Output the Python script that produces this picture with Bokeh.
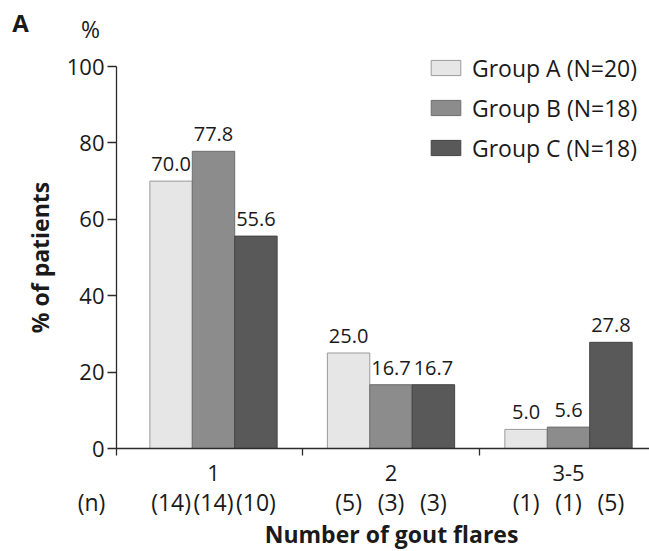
from bokeh.plotting import figure
from bokeh.models import (ColumnDataSource, FixedTicker, Range1d, Legend, LegendItem,
                          LabelSet, Label)
from bokeh.core.properties import value
from bokeh.transform import dodge
from bokeh.embed import file_html
from bokeh.resources import INLINE

# ---- data ----
categories = ["1", "2", "3-5"]
group_a = [70.0, 25.0, 5.0]
group_b = [77.8, 16.7, 5.6]
group_c = [55.6, 16.7, 27.8]
n_a = [14, 5, 1]
n_b = [14, 3, 1]
n_c = [10, 3, 5]
series_names = ["Group A (N=20)", "Group B (N=18)", "Group C (N=18)"]
y_ticks = [0, 20, 40, 60, 80, 100]

FONT = "Open Sans"
TXT = "#1a1a1a"
fills = ["#e6e6e6", "#8c8c8c", "#595959"]
lines = ["#9a9a9a", "#6e6e6e", "#444444"]
BW = 0.239
X0 = -0.0465          # where the value axis crosses the category axis

centers = [i + 0.5 for i in range(len(categories))]
src = ColumnDataSource(dict(
    x=centers, cat=categories,
    a=group_a, b=group_b, c=group_c,
    la=[f"{v:.1f}" for v in group_a], lb=[f"{v:.1f}" for v in group_b], lc=[f"{v:.1f}" for v in group_c],
    na=[f"({v})" for v in n_a], nb=[f"({v})" for v in n_b], nc=[f"({v})" for v in n_c],
))

p = figure(width=649, height=551, output_backend="svg", toolbar_location=None,
           x_range=Range1d(-0.7, 2.9563), y_range=Range1d(-26.96, 117.28),
           min_border=0, min_border_left=0, min_border_right=0,
           min_border_top=0, min_border_bottom=0)
p.outline_line_color = None
p.xgrid.grid_line_color = None
p.ygrid.grid_line_color = None
p.background_fill_color = "white"
p.border_fill_color = "white"

renderers = []
for off, col, lab, fc, lc in [(-BW, "a", "la", fills[0], lines[0]),
                              (0.0, "b", "lb", fills[1], lines[1]),
                              (BW, "c", "lc", fills[2], lines[2])]:
    r = p.vbar(x=dodge("x", off, range=p.x_range), top=col, width=BW, source=src,
               fill_color=fc, line_color=lc, line_width=1)
    renderers.append(r)
    p.add_layout(LabelSet(x=dodge("x", off, range=p.x_range), y=col, text=lab, source=src,
                          text_align="center", text_baseline="alphabetic", y_offset=10,
                          text_font=value(FONT), text_font_size="20px", text_color=TXT))

AX = "#2b2b2b"
# y axis, crossing the category axis at X0
ya = p.yaxis[0]
ya.fixed_location = X0
ya.bounds = (0, 100)
ya.ticker = FixedTicker(ticks=y_ticks)
ya.minor_tick_line_color = None
ya.major_tick_out = 9
ya.major_tick_in = 0
ya.major_label_standoff = 3
ya.major_label_text_font = FONT
ya.major_label_text_font_size = "22px"
ya.major_label_text_color = TXT
ya.axis_line_color = AX
ya.axis_line_width = 1.3
ya.major_tick_line_color = AX
ya.major_tick_line_width = 1.3
ya.axis_label = "% of patients"
ya.axis_label_text_font = FONT
ya.axis_label_text_font_style = "bold"
ya.axis_label_text_font_size = "23px"
ya.axis_label_text_color = TXT
ya.axis_label_standoff = 8

# x axis at y = 0: unlabelled tick marks at group boundaries (as minor ticks)
xa = p.xaxis[0]
xa.fixed_location = 0
xa.bounds = (X0, 2.9563)
xa.ticker = FixedTicker(ticks=[], minor_ticks=[X0, 1, 2])
xa.major_tick_line_color = None
xa.minor_tick_out = 7
xa.minor_tick_in = 0
xa.minor_tick_line_color = AX
xa.minor_tick_line_width = 1.3
xa.axis_line_color = AX
xa.axis_line_width = 1.3

# category labels and (n) row
p.add_layout(LabelSet(x="x", y=-6.5, text="cat", source=src, text_align="center",
                      text_baseline="middle", text_font=value(FONT), text_font_size="22px",
                      text_color=TXT))
for off, col in [(-BW, "na"), (0.0, "nb"), (BW, "nc")]:
    p.add_layout(LabelSet(x=dodge("x", off, range=p.x_range), y=-14.1, text=col, source=src,
                          text_align="center", text_baseline="middle", text_font=value(FONT),
                          text_font_size="23px", text_color=TXT))
p.add_layout(Label(x=-0.187, y=-14.1, text="(n)", text_align="center", text_baseline="middle",
                   text_font=FONT, text_font_size="23px", text_color=TXT))
p.add_layout(Label(x=1.503, y=-22.3, text="Number of gout flares", text_align="center",
                   text_baseline="middle", text_font=FONT, text_font_style="bold",
                   text_font_size="23px", text_color=TXT))
p.add_layout(Label(x=-0.193, y=109.7, text="%", text_align="center", text_baseline="middle",
                   text_font=FONT, text_font_size="23px", text_color=TXT))
p.add_layout(Label(x=-0.587, y=111.5, text="A", text_align="center", text_baseline="middle",
                   text_font=FONT, text_font_style="bold", text_font_size="24px", text_color=TXT))

legend = Legend(items=[LegendItem(label=n, renderers=[r]) for n, r in zip(series_names, renderers)],
                location=(427, 387.5), orientation="vertical",
                border_line_color=None, background_fill_alpha=0,
                padding=0, margin=0, spacing=8, label_height=30, glyph_width=37, glyph_height=19,
                label_standoff=8, label_text_font=FONT, label_text_font_size="23px",
                label_text_color=TXT)
p.add_layout(legend, "center")

open("out.html", "w").write(file_html(p, INLINE))
